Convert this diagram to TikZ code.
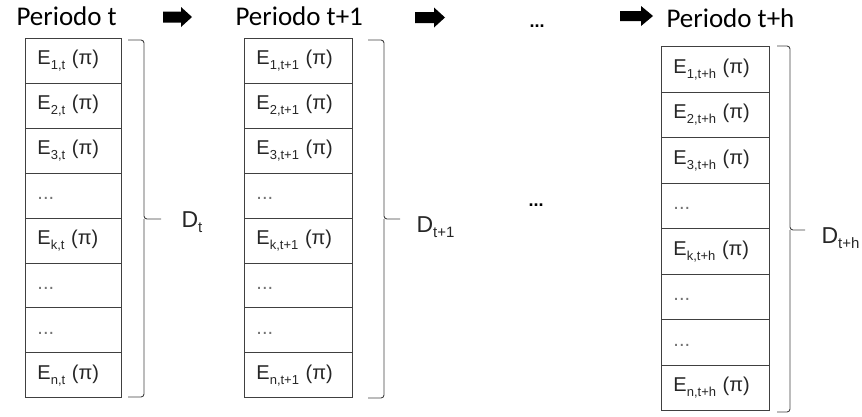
\documentclass[tikz,border=0pt]{standalone}
\usepackage{fontspec}
\setmainfont{Liberation Sans}
\newfontfamily\hdrfont{Carlito}
\newcommand\sbs[1]{\raisebox{-0.25em}{\fontsize{13}{13}\selectfont #1}}
\newcommand\sbd[1]{\raisebox{-0.25em}{\fontsize{15}{15}\selectfont #1}}
\newcommand\dd{\rule{0pt}{8pt}\textcolor{black!55}{...}}
\tikzset{
  cell/.style={draw=black!75, line width=0.9pt, minimum height=45pt, inner xsep=12pt, inner ysep=0pt,
    align=left, font=\fontsize{20}{22}\selectfont, text=black!85, anchor=north west},
  cellA/.style={cell, text width=72pt},
  cellB/.style={cell, text width=84pt},
  brk/.style={draw=black!75, line width=0.9pt, rounded corners=3pt},
  hdr/.style={anchor=base west, font=\hdrfont\fontsize{27}{27}\selectfont},
  dlab/.style={anchor=base west, font=\fontsize{23}{23}\selectfont, text=black!85},
  bigdots/.style={anchor=base, font=\bfseries\fontsize{18}{18}\selectfont},
  blk/.style={fill=black}
}
\begin{document}
\begin{tikzpicture}[x=1pt,y=-1pt]
\useasboundingbox (0,0) rectangle (862,416);
% headers
\node[hdr] (h1) at (13,25) {Periodo t};
\node[hdr] (h2) at (232,25) {Periodo t+1};
\node[hdr] (h3) at (663,27) {Periodo t+h};
\node[bigdots] (hd) at (537,27) {...};
\node[bigdots] (md) at (536,206) {...};
% block arrows
\fill[blk] (163,11.5) -- (181,11.5) -- (181,7) -- (192,17) -- (181,27) -- (181,22.5) -- (163,22.5) -- cycle;
\fill[blk] (415,12) -- (434,12) -- (434,7.5) -- (445,17.5) -- (434,27.5) -- (434,23) -- (415,23) -- cycle;
\fill[blk] (620,11) -- (641,11) -- (641,6) -- (653,16) -- (641,26) -- (641,21) -- (620,21) -- cycle;
% column 1
\foreach \lab [count=\i] in {{E\sbs{1,t} (π)},{E\sbs{2,t} (π)},{E\sbs{3,t} (π)},{\dd},{E\sbs{k,t} (π)},{\dd},{\dd},{E\sbs{n,t} (π)}}
  \node[cellA, minimum height=44.9pt] (a\i) at (25,{38+44.9*(\i-1)}) {\lab};
% column 2
\foreach \lab [count=\i] in {{E\sbs{1,t+1} (π)},{E\sbs{2,t+1} (π)},{E\sbs{3,t+1} (π)},{\dd},{E\sbs{k,t+1} (π)},{\dd},{\dd},{E\sbs{n,t+1} (π)}}
  \node[cellB, minimum height=44.9pt] (b\i) at (244,{38+44.9*(\i-1)}) {\lab};
% column 3
\foreach \lab [count=\i] in {{E\sbs{1,t+h} (π)},{E\sbs{2,t+h} (π)},{E\sbs{3,t+h} (π)},{\dd},{E\sbs{k,t+h} (π)},{\dd},{\dd},{E\sbs{n,t+h} (π)}}
  \node[cellB, minimum height=45.5pt] (c\i) at (661,{46+45.5*(\i-1)}) {\lab};
% brackets
\draw[brk] (128,40) -| (144,219) -- (161,219);
\draw[brk] (128,397) -| (144,219);
\draw[brk] (368,40) -| (384,219) -- (400,219);
\draw[brk] (368,398) -| (384,219);
\draw[brk] (777,46) -| (790,230) -- (805,230);
\draw[brk] (777,412) -| (790,230);
% labels
\node[dlab] (d1) at (178,227) {D\sbd{t}};
\node[dlab] (d2) at (413,232) {D\sbd{t+1}};
\node[dlab] (d3) at (818,243) {D\sbd{t+h}};
\end{tikzpicture}
\end{document}
